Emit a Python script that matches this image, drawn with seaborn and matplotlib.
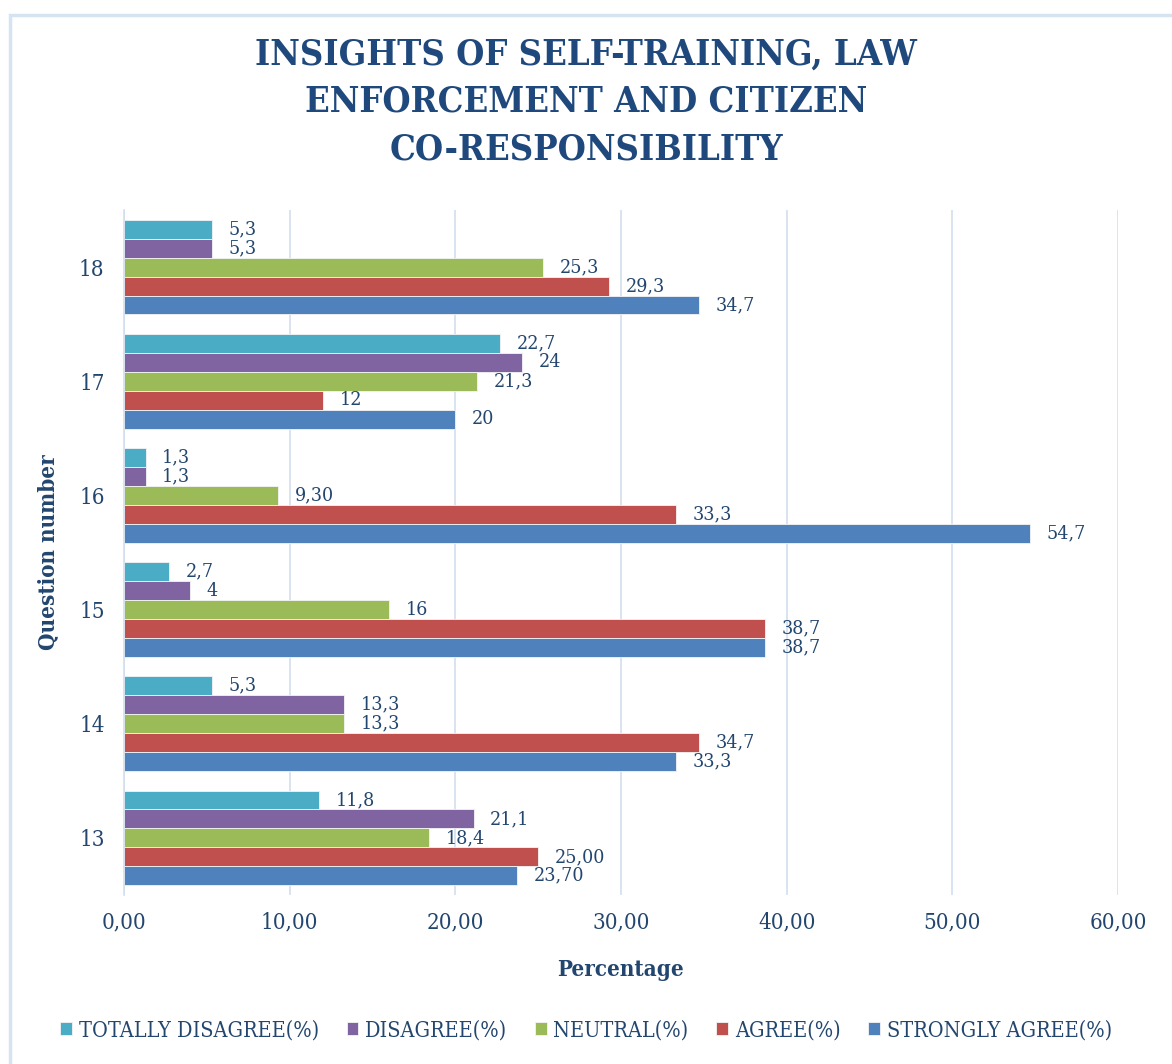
import matplotlib
matplotlib.use("Agg")
import matplotlib.pyplot as plt
from matplotlib.patches import Rectangle
from matplotlib.ticker import FuncFormatter, FixedLocator
import seaborn as sns
import pandas as pd

questions = ["18", "17", "16", "15", "14", "13"]
series = ["TOTALLY DISAGREE(%)", "DISAGREE(%)", "NEUTRAL(%)", "AGREE(%)", "STRONGLY AGREE(%)"]
totally_disagree = [5.3, 22.7, 1.3, 2.7, 5.3, 11.8]
disagree = [5.3, 24.0, 1.3, 4.0, 13.3, 21.1]
neutral = [25.3, 21.3, 9.3, 16.0, 13.3, 18.4]
agree = [29.3, 12.0, 33.3, 38.7, 34.7, 25.0]
strongly_agree = [34.7, 20.0, 54.7, 38.7, 33.3, 23.7]
label_totally = ["5,3", "22,7", "1,3", "2,7", "5,3", "11,8"]
label_disagree = ["5,3", "24", "1,3", "4", "13,3", "21,1"]
label_neutral = ["25,3", "21,3", "9,30", "16", "13,3", "18,4"]
label_agree = ["29,3", "12", "33,3", "38,7", "34,7", "25,00"]
label_strongly = ["34,7", "20", "54,7", "38,7", "33,3", "23,70"]
x_ticks = [0, 10, 20, 30, 40, 50, 60]
colors = ["#4BACC6", "#8064A2", "#9BBB59", "#C0504D", "#4F81BD"]

values = [totally_disagree, disagree, neutral, agree, strongly_agree]
labels = [label_totally, label_disagree, label_neutral, label_agree, label_strongly]

rows = []
for s, vals, labs in zip(series, values, labels):
    for q, v, l in zip(questions, vals, labs):
        rows.append({"Question": q, "Series": s, "Value": v, "Label": l})
df = pd.DataFrame(rows)

sns.set_theme(style="white")
navy = "#23466F"
serif = ["DejaVu Serif", "Liberation Serif"]
plt.rcParams["font.family"] = serif
plt.rcParams["font.stretch"] = "condensed"

fig = plt.figure(figsize=(11.72, 10.64), dpi=100)
fig.patches.append(Rectangle((10 / 1172, -0.02), 1.2, 1 - 15 / 1064 + 0.02,
                             transform=fig.transFigure, fill=False,
                             edgecolor="#D6E3F3", linewidth=2.5, zorder=0))
ax = fig.add_axes([124 / 1172, 1 - 895 / 1064, (1118 - 124) / 1172, (895 - 210) / 1064])

sns.barplot(data=df, y="Question", x="Value", hue="Series", order=questions,
            hue_order=series, palette=colors, orient="h", width=0.83, gap=0,
            saturation=1, ax=ax, legend=True, edgecolor="#F4F4F4", linewidth=0.6)

ax.set_xlim(0, 60)
ax.xaxis.set_major_locator(FixedLocator(x_ticks))
ax.xaxis.set_major_formatter(FuncFormatter(lambda v, p: f"{v:.2f}".replace(".", ",")))
ax.grid(axis="x", color="#D3DFEE", linewidth=1.2)
ax.set_axisbelow(True)
for sp in ["top", "right", "bottom"]:
    ax.spines[sp].set_visible(False)
ax.spines["left"].set_color("#D3DFEE")
ax.spines["left"].set_linewidth(1.2)
ax.tick_params(axis="x", length=0, pad=12, labelsize=16, labelcolor=navy)
ax.tick_params(axis="y", length=0, pad=14, labelsize=16, labelcolor=navy)

for cont, labs in zip(ax.containers, labels):
    ax.bar_label(cont, labels=labs, padding=12, fontsize=14, color=navy)

ax.set_xlabel("Percentage", fontsize=16, fontweight="bold", color=navy, labelpad=18)
ax.set_ylabel("Question number", fontsize=16, fontweight="bold", color=navy, labelpad=14)

fig.text(0.5, 1 - 102 / 1064,
         "INSIGHTS OF SELF-TRAINING, LAW\nENFORCEMENT AND CITIZEN\nCO-RESPONSIBILITY",
         ha="center", va="center", fontsize=26, fontweight="bold", color="#1F497D",
         linespacing=1.5)

handles, labs_ = ax.get_legend_handles_labels()
ax.get_legend().remove()
fig.legend(handles, labs_, loc="center", bbox_to_anchor=(0.5, 1 - 1030 / 1064), ncol=5,
           frameon=False, fontsize=15.5, handlelength=0.55, handleheight=0.55,
           handletextpad=0.3, columnspacing=1.3, labelcolor=navy)

fig.savefig("out.png", dpi=100)
